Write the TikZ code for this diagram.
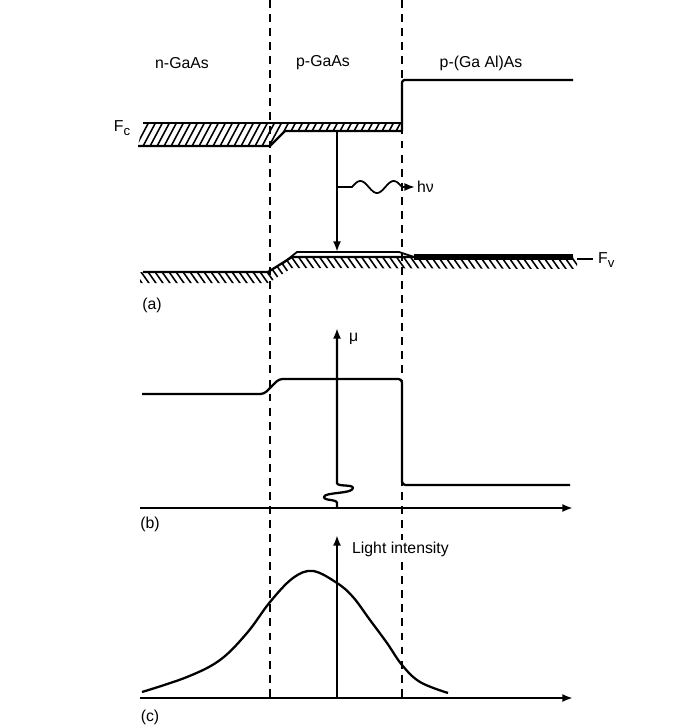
\documentclass[tikz,border=0pt]{standalone}
\usepackage{fontspec}
\setmainfont{Liberation Sans}
\usepackage{tikz}
\usetikzlibrary{calc, arrows.meta}

\newcommand{\bandsub}[1]{\raisebox{-2.5pt}{\fontsize{7.5}{8}\selectfont #1}}

\tikzset{
    band/.style={line width=1.3pt, line join=round},
    hatch/.style={line width=0.9pt},
    divider/.style={line width=0.9pt, dash pattern=on 4.5pt off 3.5pt},
    lbl/.style={font=\fontsize{9}{11}\selectfont, inner sep=1pt},
}

\begin{document}
\begin{tikzpicture}[>={Latex[length=6pt, width=4.5pt]}, x=0.02cm, y=-0.02cm]
    \useasboundingbox (0,0) rectangle (673,726);

    % =================================================================
    % 1. MAIN COORDINATES
    % =================================================================
    % layer boundaries
    \coordinate (J1) at (270,0);
    \coordinate (J1e) at (270,700);
    \coordinate (J2) at (402,0);
    \coordinate (J2e) at (402,700);

    % conduction band (F_c)
    \coordinate (Cl) at (143,123);
    \coordinate (Clb) at (138,146);
    \coordinate (Ck) at (270,146);
    \coordinate (Cp) at (285,131);
    \coordinate (Ct) at (402,123);
    \coordinate (Cb) at (402,131);
    \coordinate (Cs) at (402,80);
    \coordinate (Cr) at (573,80);

    % valence band (F_v)
    \coordinate (Vl) at (143,272);
    \coordinate (Vk) at (268,272);
    \coordinate (Vp) at (292,257);
    \coordinate (Vr) at (573,257);
    \coordinate (Fa) at (282,264);
    \coordinate (Fb) at (297,252);
    \coordinate (Fc) at (399,252);
    \coordinate (Fd) at (414,257);

    % recombination and photon
    \coordinate (Rtop) at (337,131);
    \coordinate (Rbot) at (337,252);
    \coordinate (Ph) at (337,187);
    \coordinate (Phw) at (350,187);
    \coordinate (Phe) at (415,187);

    % axes of (b) and (c)
    \coordinate (Bo) at (140,508);
    \coordinate (Bx) at (573,508);
    \coordinate (Bz) at (337,508);
    \coordinate (By) at (337,328);
    \coordinate (Co) at (140,698);
    \coordinate (Cx) at (573,698);
    \coordinate (Cz) at (337,698);
    \coordinate (Cy) at (337,535);

    % =================================================================
    % 2. LAYER BOUNDARIES (DASHED)
    % =================================================================
    \draw[divider] (J1) -- (J1e);
    \draw[divider] (J2) -- (J2e);

    % =================================================================
    % 3. (a) BAND DIAGRAM
    % =================================================================
    % hatching inside the conduction band
    \begin{scope}
        \clip (Cl) -- (Ct) -- (Cb) -- (Cp) -- (Ck) -- (Clb) -- cycle;
        \foreach \x in {120,127,...,420}
            \draw[hatch] (\x,150) -- ++(16,-30);
    \end{scope}
    \draw[band] (Cl) -- (Ct);
    \draw[band] (Clb) -- (Ck) -- (Cp) -- (Cb);
    \draw[band, rounded corners=1.5pt] (Cb) -- (Cs) -- (Cr);

    % hatching below the valence band
    \begin{scope}
        \clip (140,272) -- (Vk) -- (Vp) -- (577,257) -- (577,269) -- (292,268) -- (268,283) -- (140,283) -- cycle;
        \foreach \x in {120,127,...,590}
            \draw[hatch] (\x,252) -- ++(24,34);
    \end{scope}
    \draw[band] (Vl) -- (Vk) -- (Vp) -- (Vr);
    \draw[line width=1pt, line join=round] (Fa) -- (Fb) -- (Fc) -- (Fd);
    \draw[line width=3pt] (Fd) -- (Vr);
    \draw[line width=0.9pt] (577,259) -- (593,259);

    % transition and emitted photon
    \draw[band, ->] (Rtop) -- (Rbot);
    \draw[line width=1pt, ->] (Ph) -- (Phw)
        -- plot[domain=0:1, samples=40] ({352+50*\x},{187-6*sin(540*\x)})
        -- (Phe);

    % =================================================================
    % 4. (b) AND (c) CURVES
    % =================================================================
    \draw[band, ->] (Bo) -- (Bx);
    \draw[band, ->] (Bz) -- (337,503)
        .. controls (337,499) and (324,501) .. (324,497)
        .. controls (324,492) and (353,494) .. (353,488)
        .. controls (353,484) and (337,487) .. (337,483) -- (By);
    \draw[band, rounded corners=2pt] (142,394) -- (264,394) -- (279,379) -- (402,379) -- (402,485) -- (570,485);

    \draw[band, ->] (Co) -- (Cx);
    \draw[band, ->] (Cz) -- (Cy);
    \draw[band] plot[smooth, tension=0.6] coordinates {(142,692) (187,677) (220,660) (247,633) (270,602) (293,578) (313,571) (337,583) (353,597) (370,620) (387,643) (402,665) (420,682) (448,693)};

    % =================================================================
    % 5. LABELS
    % =================================================================
    \node[lbl] (nGaAs) at (182,63) {n-GaAs};
    \node[lbl] (pGaAs) at (323,63) {p-GaAs};
    \node[lbl] (pGaAlAs) at (481,63) {p-(Ga Al)As};
    \node[lbl] (Fclbl) at (122,128) {F\bandsub{c}};
    \node[lbl, anchor=west] (Fvlbl) at (596,260) {F\bandsub{v}};
    \node[lbl, anchor=west] (hv) at (Phe) {hν};
    \node[lbl, anchor=west] (mu) at (347,339) {μ};
    \node[lbl, anchor=west, fill=white] (light) at (350,549) {Light intensity};
    \node[lbl] (la) at (152,305) {(a)};
    \node[lbl] (lb) at (150,524) {(b)};
    \node[lbl] (lc) at (150,717) {(c)};

\end{tikzpicture}
\end{document}
